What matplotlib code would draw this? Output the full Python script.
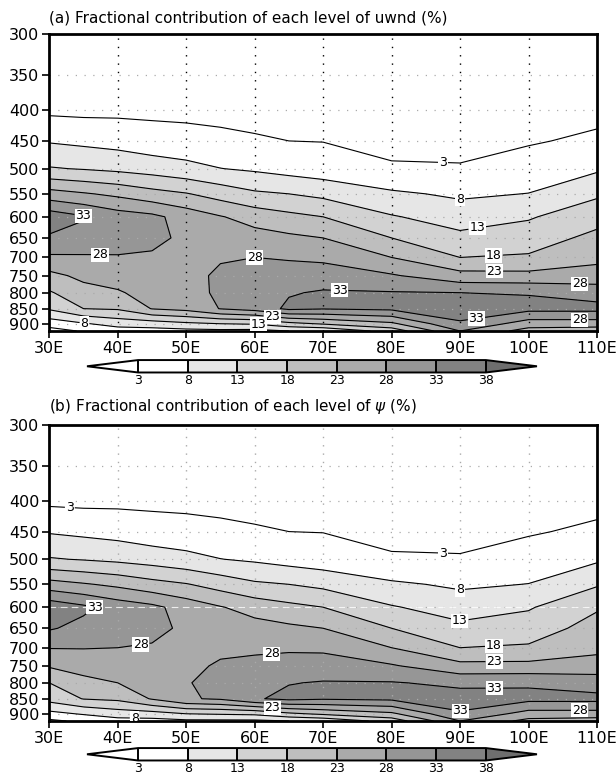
import numpy as np
import matplotlib
matplotlib.use("Agg")
import matplotlib.pyplot as plt
from matplotlib.ticker import NullLocator

# Longitudes (deg E) and pressure levels (hPa)
LONS = [30, 35, 40, 45, 50, 55, 60, 65, 70, 80, 90, 100, 110]
LEVS = [300, 350, 400, 450, 500, 550, 600, 650, 700, 750, 800, 850, 900, 925]

# Fractional contribution (%) of each level, one column per longitude (300 -> 925 hPa)
UWND = [
    [0.3, 0.8, 2.0, 7.6, 13.4, 25.1, 36.0, 32.3, 27.2, 21.6, 17.5, 13.6, 5.1, 1.0],
    [0.3, 0.8, 1.8, 6.9, 12.7, 23.5, 33.5, 30.8, 27.5, 24.2, 21.1, 18.0, 7.5, 3.5],
    [0.4, 1.0, 1.9, 6.2, 11.9, 21.9, 30.5, 31.0, 27.5, 25.1, 22.5, 18.5, 10.0, 5.5],
    [0.4, 1.0, 2.0, 5.0, 10.9, 19.8, 29.2, 29.5, 27.2, 26.0, 24.8, 23.2, 10.5, 6.0],
    [0.4, 1.0, 1.9, 4.6, 9.6, 18.3, 26.0, 26.8, 26.5, 26.5, 26.3, 24.5, 12.0, 6.5],
    [0.4, 1.0, 1.8, 4.0, 8.1, 16.0, 23.3, 25.5, 27.6, 28.8, 28.8, 28.2, 13.0, 6.8],
    [0.5, 1.0, 1.8, 3.4, 7.3, 13.8, 21.0, 25.0, 28.0, 29.5, 31.0, 30.0, 13.5, 6.5],
    [0.5, 1.0, 2.0, 3.0, 6.2, 13.0, 19.3, 24.0, 27.6, 30.0, 32.6, 34.0, 16.5, 8.0],
    [0.5, 1.0, 2.0, 2.9, 5.3, 11.8, 18.0, 23.0, 27.0, 30.5, 33.5, 33.3, 18.5, 8.5],
    [0.4, 1.0, 1.5, 1.8, 3.5, 8.8, 13.4, 18.0, 23.0, 28.5, 33.3, 34.0, 22.0, 15.0],
    [0.3, 0.8, 1.3, 1.9, 3.3, 7.2, 10.7, 14.3, 18.0, 24.8, 33.0, 35.0, 32.5, 28.0],
    [0.5, 1.2, 2.0, 2.6, 5.0, 8.1, 12.5, 15.6, 18.6, 24.5, 32.7, 34.5, 25.5, 21.0],
    [0.8, 1.5, 1.8, 3.8, 7.3, 12.2, 16.2, 19.3, 21.8, 25.0, 31.0, 34.5, 25.5, 20.0],
]

PSI = [
    [0.3, 0.8, 2.0, 7.6, 13.4, 25.1, 36.5, 33.5, 28.2, 23.5, 18.0, 14.8, 6.5, 2.0],
    [0.3, 0.8, 1.8, 6.9, 12.7, 23.5, 34.0, 31.5, 28.2, 25.0, 21.5, 18.2, 8.5, 4.0],
    [0.4, 1.0, 1.9, 6.2, 11.9, 21.9, 31.0, 31.5, 28.0, 25.5, 23.0, 19.0, 10.5, 6.0],
    [0.4, 1.0, 2.0, 5.0, 10.9, 19.8, 29.2, 29.5, 27.5, 26.2, 25.0, 23.4, 11.0, 6.2],
    [0.4, 1.0, 1.9, 4.6, 9.6, 18.3, 26.0, 27.0, 26.8, 26.8, 27.8, 27.5, 13.0, 7.0],
    [0.4, 1.0, 1.8, 4.0, 8.1, 16.0, 23.3, 25.5, 27.0, 28.6, 29.0, 28.6, 13.5, 7.0],
    [0.5, 1.0, 1.8, 3.4, 7.3, 13.8, 21.0, 25.0, 27.0, 29.5, 31.0, 32.5, 14.0, 7.0],
    [0.5, 1.0, 2.0, 3.0, 6.2, 13.0, 19.3, 24.0, 27.3, 30.0, 32.8, 34.2, 17.0, 8.0],
    [0.5, 1.0, 2.0, 2.9, 5.3, 11.8, 18.0, 23.0, 27.0, 30.5, 33.3, 33.5, 19.0, 9.0],
    [0.4, 1.0, 1.5, 1.8, 3.5, 8.8, 13.4, 18.0, 23.0, 28.5, 33.3, 34.0, 22.0, 15.0],
    [0.3, 0.8, 1.3, 1.9, 3.3, 7.2, 10.7, 14.3, 18.0, 24.5, 32.0, 35.0, 32.5, 28.0],
    [0.5, 1.2, 2.0, 2.6, 5.0, 8.1, 12.5, 15.6, 18.6, 24.5, 32.3, 34.5, 26.0, 21.5],
    [0.8, 1.5, 1.8, 3.8, 7.3, 12.5, 17.5, 19.8, 21.5, 25.5, 30.5, 34.5, 26.0, 20.5],
]

CLEVS = [3, 8, 13, 18, 23, 28, 33, 38]
FILLS = ["white", "white", "#e6e6e6", "#d2d2d2", "#bebebe",
         "#aaaaaa", "#969696", "#828282", "#6e6e6e"]

XTICKS = [30, 40, 50, 60, 70, 80, 90, 100, 110]
YTICKS = [300, 350, 400, 450, 500, 550, 600, 650, 700, 750, 800, 850, 900]

# where the contour labels sit (lon, hPa)
LABELS_A = [(87.5, 496), (90, 563), (92.6, 635), (95, 706), (95, 740), (107.5, 779),
            (72.4, 793), (92.6, 896), (107.5, 886), (60, 700), (37.4, 692),
            (35, 592), (62.5, 883), (60.5, 910), (35, 910)]
LABELS_B = [(33, 412), (87.5, 496), (90, 563), (90, 631), (95, 705), (95, 740),
            (95, 818), (90, 896), (107.5, 886), (62.5, 720), (43.5, 702),
            (37.4, 600), (62.5, 886), (42.5, 909)]

FONT = "DejaVu Sans"


def draw_panel(ax, cax, columns, title, label_pos, vgrid_color):
    field = np.array(columns).T
    cf = ax.contourf(LONS, LEVS, field, levels=CLEVS, colors=FILLS, extend="both", zorder=1)
    cs = ax.contour(LONS, LEVS, field, levels=CLEVS, colors="k", linewidths=0.8, zorder=2)

    texts = ax.clabel(cs, manual=label_pos, inline=True, inline_spacing=1,
                      fontsize=9, fmt="%d")
    for t in texts:
        t.set_rotation(0)
        t.set_bbox(dict(boxstyle="square,pad=0.05", fc="white", ec="none"))

    ax.set_yscale("log")
    ax.set_ylim(925, 300)
    ax.set_xlim(30, 110)
    ax.yaxis.set_minor_locator(NullLocator())
    ax.set_yticks(YTICKS)
    ax.set_yticklabels([str(v) for v in YTICKS])
    ax.set_xticks(XTICKS)
    ax.set_xticklabels([f"{v}E" for v in XTICKS])
    ax.tick_params(axis="both", direction="out", length=5, width=1.2,
                   labelsize=11.5, pad=2)

    # dotted grid
    for v in XTICKS[1:-1]:
        ax.axvline(v, color=vgrid_color, lw=1.0, ls=(0, (1, 5)), zorder=1.5)
    for v in YTICKS[1:]:
        ax.axhline(v, color="#aaaaaa", lw=0.9, ls=(0, (1, 6)), zorder=1.5)

    for s in ax.spines.values():
        s.set_linewidth(2.0)

    ax.text(0.0, 1.03, title, transform=ax.transAxes, ha="left", va="bottom",
            fontsize=11, family=FONT)

    cb = plt.colorbar(cf, cax=cax, orientation="horizontal", extend="both",
                      extendfrac=0.147, drawedges=True, ticks=CLEVS)
    cb.outline.set_linewidth(1.4)
    cb.dividers.set_linewidth(1.4)
    cb.ax.tick_params(length=0, labelsize=9, pad=1)
    cb.ax.set_xticklabels([str(v) for v in CLEVS])


fig = plt.figure(figsize=(6.16, 7.76), dpi=100)
ax_a = fig.add_axes([0.0800, 0.5735, 0.8891, 0.3827])
cax_a = fig.add_axes([0.1412, 0.5200, 0.7305, 0.0160])
ax_b = fig.add_axes([0.0800, 0.0709, 0.8891, 0.3814])
cax_b = fig.add_axes([0.1412, 0.0200, 0.7305, 0.0160])

draw_panel(ax_a, cax_a, UWND, "(a) Fractional contribution of each level of uwnd (%)",
           LABELS_A, "black")
draw_panel(ax_b, cax_b, PSI, r"(b) Fractional contribution of each level of $\psi$ (%)",
           LABELS_B, "#aaaaaa")

# light dashed streak across panel (b) at 600 hPa
ax_b.axhline(600, color="white", lw=0.8, ls=(0, (6, 4)), alpha=0.8, zorder=1.6)

fig.savefig("out.png", dpi=100)
